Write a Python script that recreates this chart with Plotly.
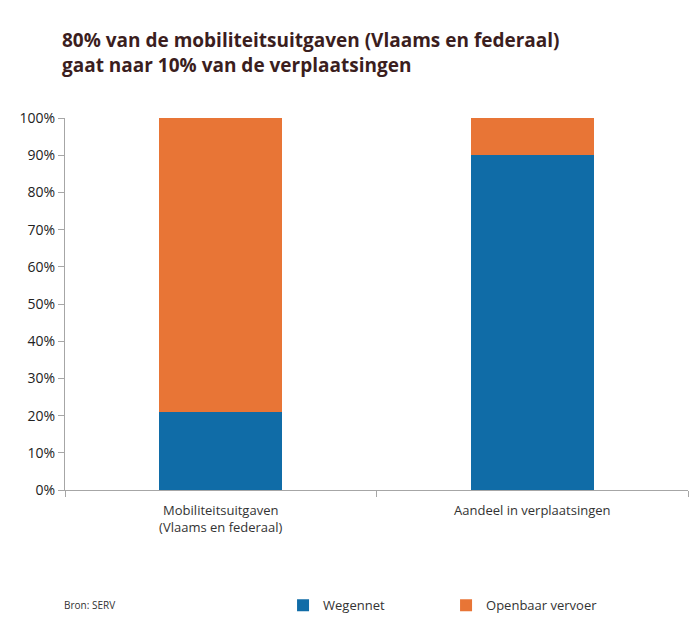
import plotly.graph_objects as go

categories = ["Mobiliteitsuitgaven<br>(Vlaams en federaal)", "Aandeel in verplaatsingen"]
wegennet = [0.21, 0.90]
openbaar = [0.79, 0.10]
yticks = [0, 0.1, 0.2, 0.3, 0.4, 0.5, 0.6, 0.7, 0.8, 0.9, 1.0]
ytick_labels = ["0%", "10%", "20%", "30%", "40%", "50%", "60%", "70%", "80%", "90%", "100%"]

blue = "#106ca7"
orange = "#e87536"

fig = go.Figure()
fig.add_trace(go.Bar(x=categories, y=wegennet, name="Wegennet", marker=dict(color=blue, line=dict(width=0))))
fig.add_trace(go.Bar(x=categories, y=openbaar, name="Openbaar vervoer", marker=dict(color=orange, line=dict(width=0))))

fig.update_layout(
    width=698, height=626,
    barmode="stack", bargap=0.605,
    plot_bgcolor="white", paper_bgcolor="white",
    margin=dict(l=65, r=10, t=118, b=136, autoexpand=False),
    font=dict(family="Open Sans", color="#333333"),
    title=dict(
        text="<b>80% van de mobiliteitsuitgaven (Vlaams en federaal)<br>gaat naar 10% van de verplaatsingen</b>",
        x=62/698, xanchor="left", y=1-47/626, yanchor="middle",
        font=dict(family="Open Sans", size=19, color="#3b1e1e"),
    ),
    showlegend=True,
    legend=dict(
        orientation="h", x=0.35, xanchor="left", y=-0.31, yanchor="middle",
        entrywidth=118, entrywidthmode="pixels",
        font=dict(family="Open Sans", size=13, color="#333333"),
        traceorder="normal",
    ),
    annotations=[dict(
        text="Bron: SERV", xref="paper", yref="paper", x=-3/623, y=-0.31,
        xanchor="left", yanchor="middle", showarrow=False,
        font=dict(family="Open Sans", size=10, color="#333333"),
    )],
)
fig.update_yaxes(
    range=[0, 1], tickvals=yticks, ticktext=ytick_labels,
    showgrid=False, showline=True, linecolor="#a6a6a6", linewidth=1,
    ticks="outside", ticklen=6, tickcolor="#a6a6a6",
    tickfont=dict(family="Open Sans", size=14, color="#222222"),
    zeroline=False,
)
fig.update_xaxes(
    showgrid=False, showline=True, linecolor="#a6a6a6", linewidth=1,
    ticks="outside", ticklen=6, tickcolor="#a6a6a6", tickson="boundaries",
    ticklabelstandoff=8,
    tickfont=dict(family="Open Sans", size=13, color="#333333"),
)

fig.write_html("out.html")
